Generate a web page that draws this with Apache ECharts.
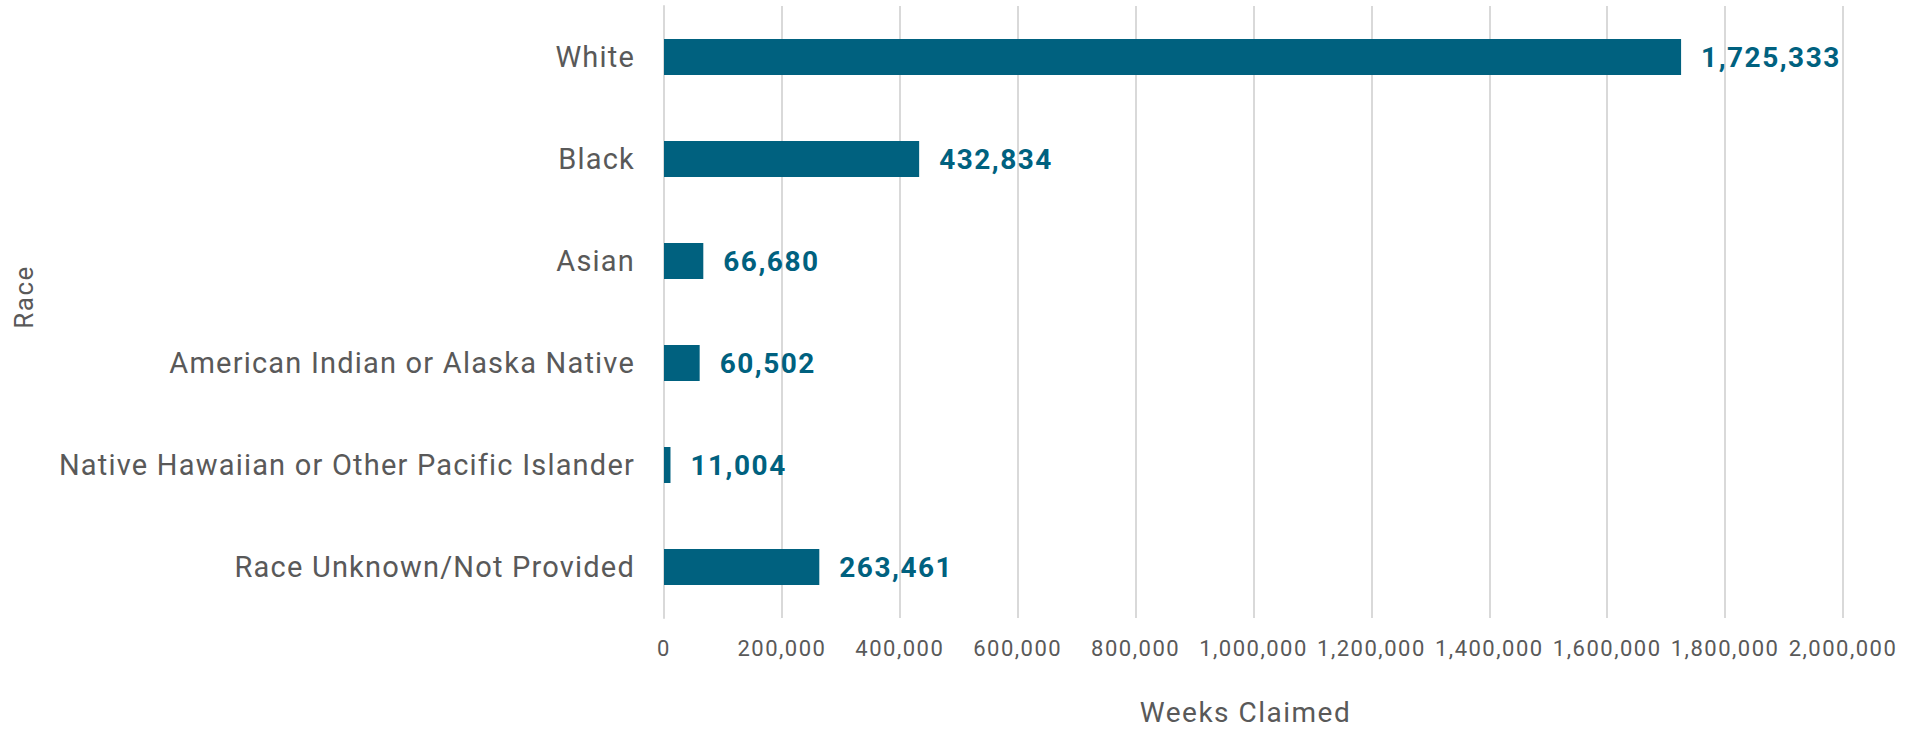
<!DOCTYPE html>
<html>
<head>
<meta charset="utf-8">
<script src="https://cdn.jsdelivr.net/npm/echarts@6/dist/echarts.min.js"></script>
<style>
  html, body { margin: 0; padding: 0; background: #fff; }
  #chart { width: 1919px; height: 731px; }
  /* 元の図は字間が広めなので SVG のテキストに字間を足す */
  #chart text { letter-spacing: 1.5px; }
  #chart text[text-anchor="end"] { letter-spacing: 1.2px; }
</style>
</head>
<body>
<div id="chart"></div>
<script>
// 人種別の請求週数（横棒グラフ）
const races = [
  'White',
  'Black',
  'Asian',
  'American Indian or Alaska Native',
  'Native Hawaiian or Other Pacific Islander',
  'Race Unknown/Not Provided',
];
const weeksClaimed = [1725333, 432834, 66680, 60502, 11004, 263461];
const xTicks = { min: 0, max: 2000000, interval: 200000 };

const fmt = (v) => v.toLocaleString('en-US');
const barColor = '#00617f';
const textColor = '#595959';

const chart = echarts.init(document.getElementById('chart'), null, { renderer: 'svg' });
chart.setOption({
  backgroundColor: '#fff',
  animation: false,
  textStyle: { fontFamily: 'Roboto' },
  grid: { left: 664, right: 76, top: 6, bottom: 106 },
  xAxis: {
    type: 'value',
    min: xTicks.min,
    max: xTicks.max,
    interval: xTicks.interval,
    name: 'Weeks Claimed',
    nameLocation: 'middle',
    nameGap: 80,
    nameTextStyle: { color: textColor, fontSize: 28, padding: [0, 16, 0, 0] },
    axisLine: { show: false },
    axisTick: { show: false },
    axisLabel: { color: textColor, fontSize: 22, margin: 19, formatter: fmt },
    splitLine: { lineStyle: { color: '#d9d9d9', width: 2 } },
  },
  yAxis: {
    type: 'category',
    data: races,
    inverse: true,
    name: 'Race',
    nameLocation: 'middle',
    nameGap: 627,
    nameTextStyle: { color: textColor, fontSize: 26, padding: [0, 0, 0, 30] },
    axisLine: { show: true, lineStyle: { color: '#d9d9d9', width: 2 } },
    axisTick: { show: false },
    axisLabel: { color: textColor, fontSize: 29, margin: 29 },
  },
  series: [{
    type: 'bar',
    data: weeksClaimed,
    barWidth: 36,
    itemStyle: { color: barColor },
    label: {
      show: true,
      position: 'right',
      distance: 20,
      color: barColor,
      fontSize: 28,
      fontWeight: 'bold',
      formatter: (p) => fmt(p.value),
    },
  }],
});
window.addEventListener('resize', () => chart.resize());
</script>
</body>
</html>
